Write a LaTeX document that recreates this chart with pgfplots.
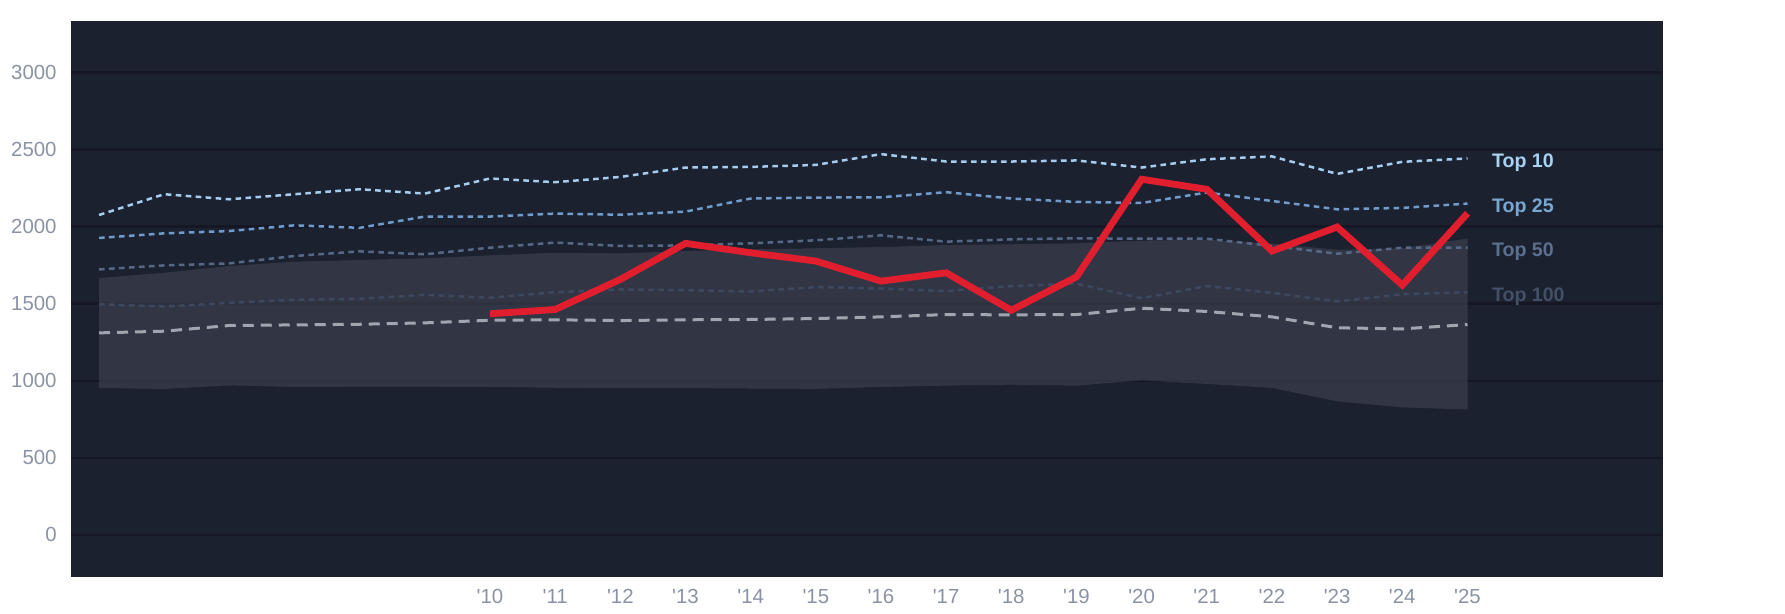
\documentclass[border=0pt]{standalone}
\usepackage{fontspec}
\setmainfont{Liberation Sans}
\usepackage{pgfplots}
\usepackage{pgfplotstable}
\pgfplotsset{compat=1.18}
\usepgfplotslibrary{fillbetween}

\definecolor{plotbg}{HTML}{1C2130}
\definecolor{gridc}{HTML}{151824}
\definecolor{bandc}{HTML}{484B58}
\definecolor{tickc}{HTML}{8A93A5}
\definecolor{ctop10}{HTML}{A4CDF0}
\definecolor{ctop25}{HTML}{6F9CCC}
\definecolor{ctop50}{HTML}{556987}
\definecolor{ctop100}{HTML}{3C4860}
\definecolor{lab10}{HTML}{A8D2F2}
\definecolor{lab25}{HTML}{78A8D2}
\definecolor{lab50}{HTML}{5B6F8E}
\definecolor{lab100}{HTML}{434F66}
\definecolor{medc}{HTML}{A0A5B0}
\definecolor{redc}{HTML}{E11E2D}

\tikzset{toplab/.style={pos=1, anchor=west, xshift=8.3pt, yshift=-2pt, font=\bfseries\fontsize{9.8}{11}\selectfont}}

\pgfplotstableread{
year t10  t25  t50  t100 med  lo   hi
2004 2076 1927 1723 1497 1311 954  1667
2005 2211 1957 1749 1482 1322 947  1701
2006 2178 1972 1762 1506 1359 971  1745
2007 2211 2009 1810 1526 1363 960  1773
2008 2243 1993 1840 1532 1367 962  1784
2009 2215 2066 1821 1558 1376 962  1795
2010 2313 2066 1864 1539 1393 960  1814
2011 2289 2085 1897 1575 1396 955  1831
2012 2323 2078 1875 1593 1391 952  1827
2013 2384 2098 1879 1588 1396 953  1842
2014 2388 2183 1892 1580 1398 950  1853
2015 2401 2189 1912 1608 1404 948  1860
2016 2471 2191 1944 1599 1415 960  1868
2017 2423 2224 1903 1582 1430 969  1881
2018 2423 2183 1918 1615 1428 975  1886
2019 2430 2161 1925 1630 1430 969  1892
2020 2384 2154 1922 1536 1471 1003 1910
2021 2438 2222 1922 1615 1450 980  1915
2022 2456 2167 1875 1571 1415 954  1890
2023 2343 2113 1825 1515 1344 867  1850
2024 2421 2122 1864 1562 1337 828  1860
2025 2443 2150 1864 1575 1365 814  1923
}\bands

\pgfplotstableread{
year val
2010 1435
2011 1463
2012 1658
2013 1892
2014 1831
2015 1777
2016 1647
2017 1701
2018 1458
2019 1675
2020 2308
2021 2243
2022 1842
2023 1998
2024 1621
2025 2087
}\team

\begin{document}
\begin{tikzpicture}
\begin{axis}[
  at={(0pt,0pt)}, anchor=south west,
  scale only axis,
  width=796pt, height=278pt,
  xmin=2003.57, xmax=2028.0,
  ymin=-273, ymax=3335,
  axis background/.style={fill=plotbg},
  axis line style={draw=none},
  tick style={draw=none},
  ytick={0,500,...,3000},
  xtick={2010,...,2025},
  xticklabels={\textquotesingle10,\textquotesingle11,\textquotesingle12,\textquotesingle13,\textquotesingle14,\textquotesingle15,\textquotesingle16,\textquotesingle17,\textquotesingle18,\textquotesingle19,\textquotesingle20,\textquotesingle21,\textquotesingle22,\textquotesingle23,\textquotesingle24,\textquotesingle25},
  ymajorgrids,
  major grid style={draw=gridc, line width=1.3pt},
  /pgf/number format/assume math mode=true,
  /pgf/number format/1000 sep={},
  ticklabel style={font=\fontsize{10.2}{12}\selectfont, text=tickc},
  yticklabel style={inner sep=0pt, xshift=-7pt},
  xticklabel style={inner sep=0pt, yshift=-6pt},
  clip=false,
]
\addplot[draw=none, name path=hi, forget plot] table[x=year, y=hi] {\bands};
\addplot[draw=none, name path=lo, forget plot] table[x=year, y=lo] {\bands};
\addplot[fill=bandc, fill opacity=0.5, draw=none] fill between[of=hi and lo];

\addplot[ctop100, line width=1.25pt, dash pattern=on 2.8pt off 2.2pt] table[x=year, y=t100] {\bands}
  node[toplab, text=lab100] {Top 100};
\addplot[ctop50, line width=1.25pt, dash pattern=on 2.8pt off 2.2pt] table[x=year, y=t50] {\bands}
  node[toplab, text=lab50] {Top 50};
\addplot[ctop25, line width=1.25pt, dash pattern=on 2.8pt off 2.2pt] table[x=year, y=t25] {\bands}
  node[toplab, text=lab25] {Top 25};
\addplot[ctop10, line width=1.25pt, dash pattern=on 2.8pt off 2.2pt] table[x=year, y=t10] {\bands}
  node[toplab, text=lab10] {Top 10};
\addplot[medc, line width=1.5pt, dash pattern=on 5.5pt off 3.5pt] table[x=year, y=med] {\bands};
\addplot[redc, line width=3.4pt, line join=miter] table[x=year, y=val] {\team};
\end{axis}
\pgfresetboundingbox
\path[use as bounding box] (-35.5pt,-18.5pt) rectangle (857pt,288.5pt);
\end{tikzpicture}
\end{document}
